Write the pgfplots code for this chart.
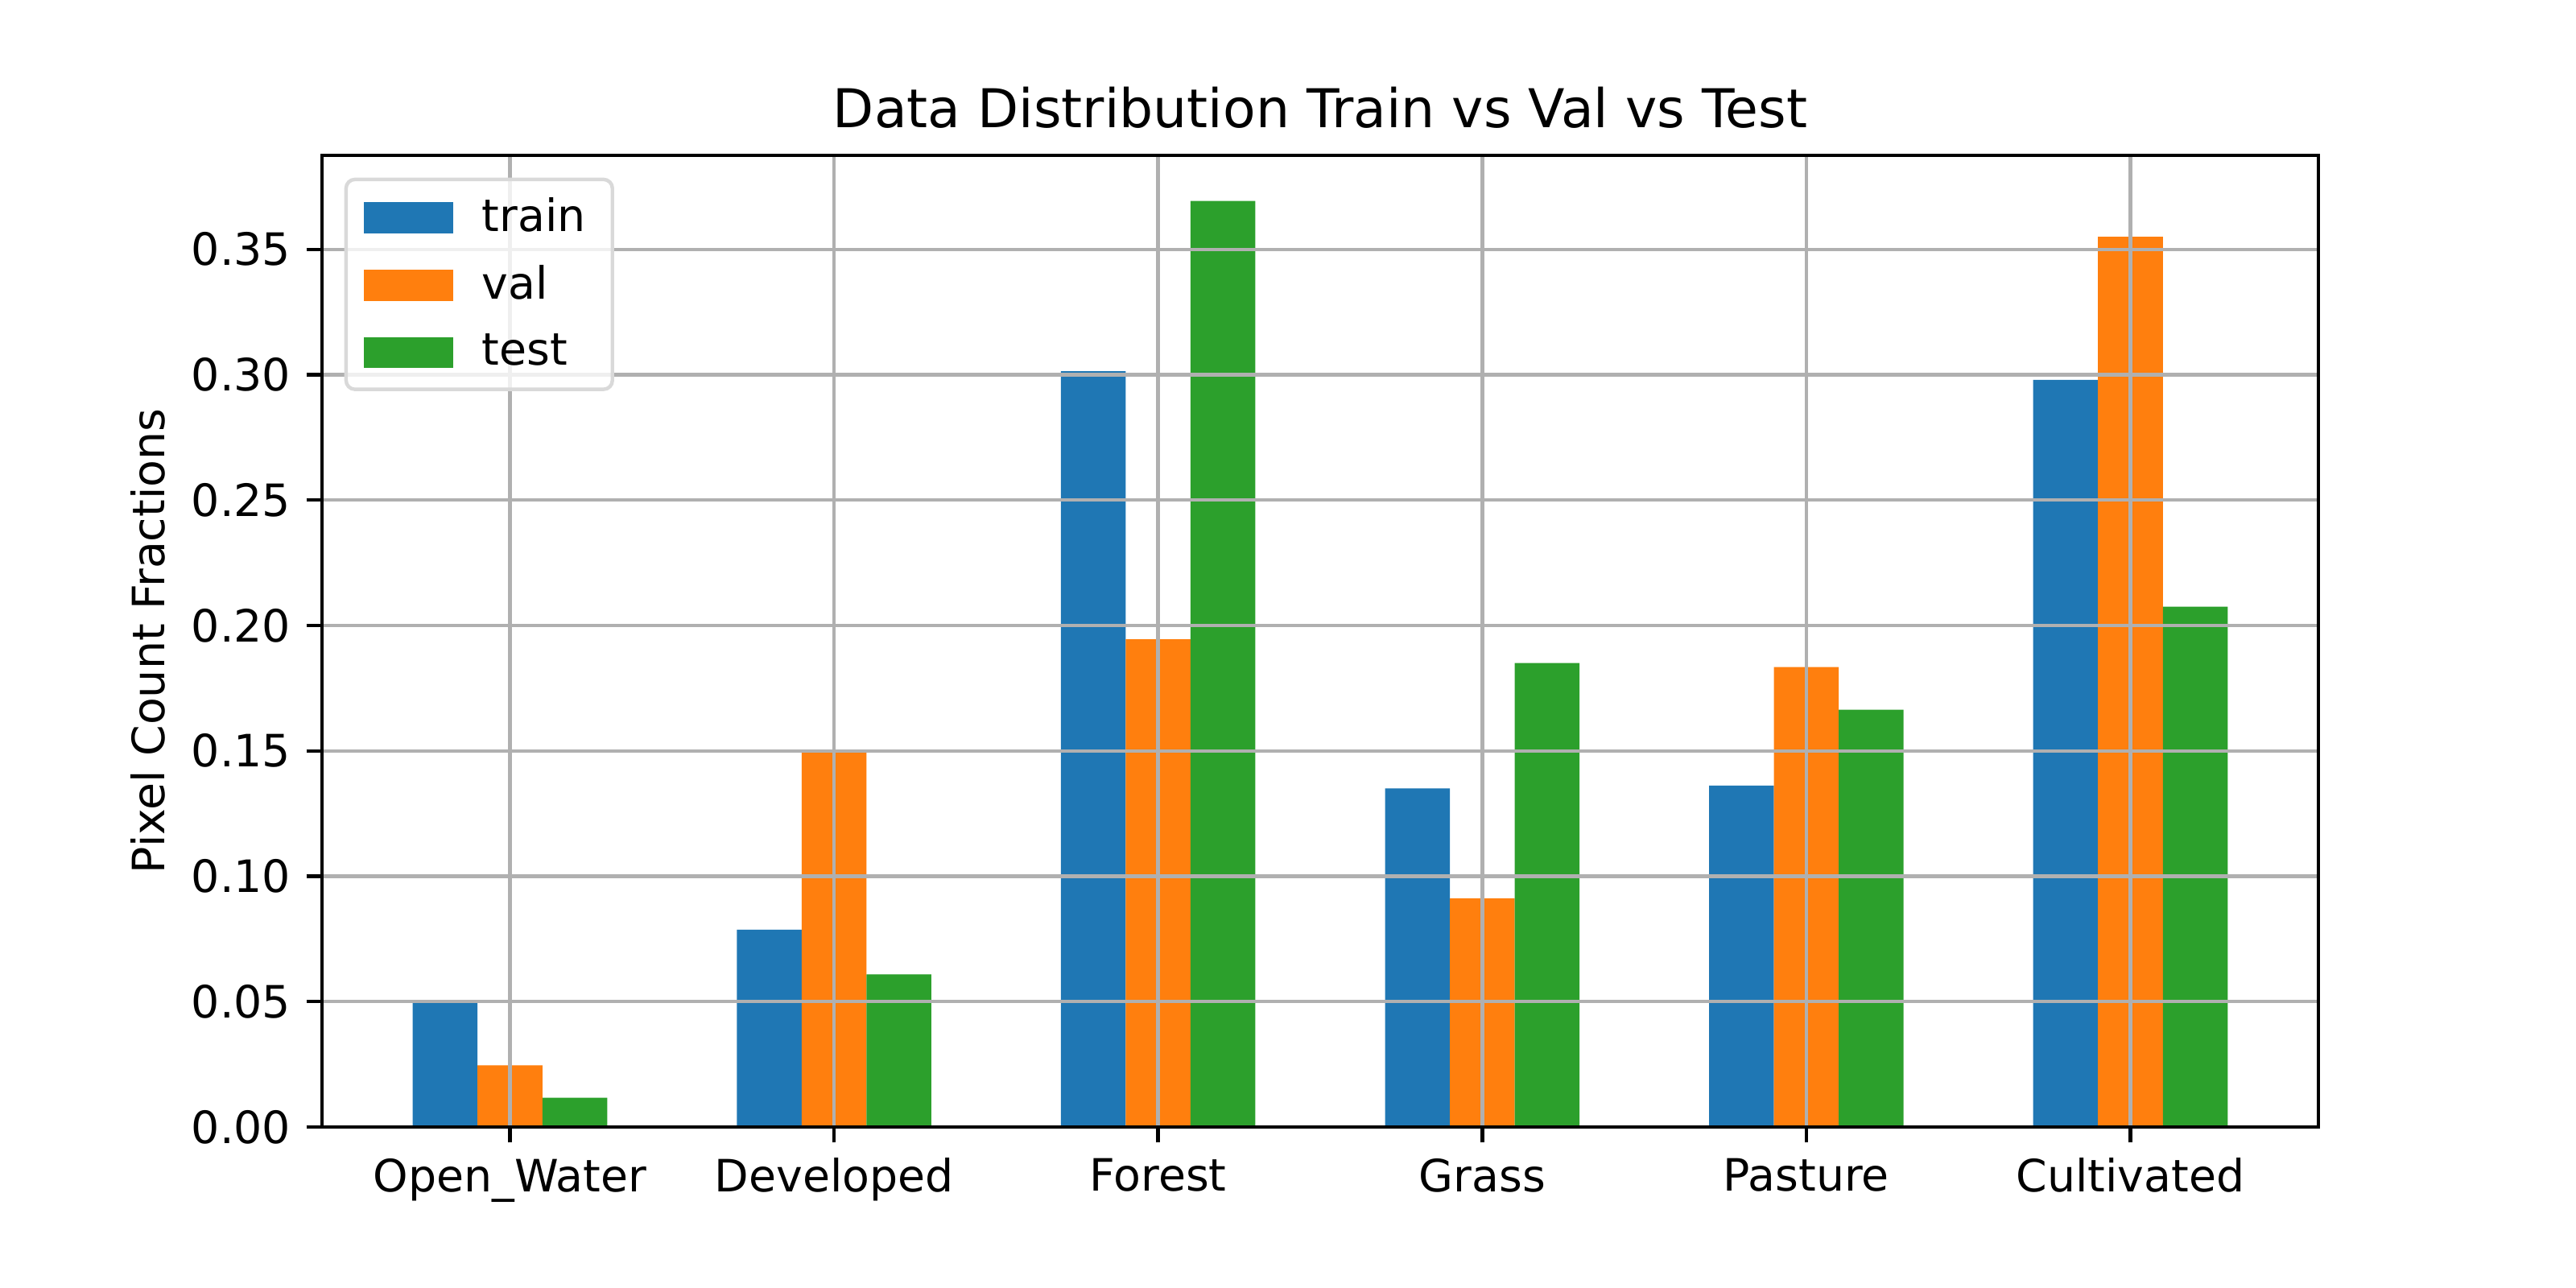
\documentclass[border=0pt]{standalone}
\usepackage{pgfplots}
\pgfplotsset{compat=1.18}
\usepackage{fontspec}
\setmainfont{DejaVu Sans}
\definecolor{c1}{HTML}{1F77B4}
\definecolor{c2}{HTML}{FF7F0E}
\definecolor{c3}{HTML}{2CA02C}
\definecolor{gridc}{HTML}{B0B0B0}
\begin{document}
\fontsize{10}{12}\selectfont
\begin{tikzpicture}
\path[use as bounding box] (0,0) rectangle (8in,4in);
\begin{axis}[
  at={(1in,0.5in)}, anchor=south west,
  scale only axis, width=6.2in, height=3.0175in,
  xmin=-0.58, xmax=5.58, ymin=0, ymax=0.3875,
  xtick={0,1,2,3,4,5},
  xticklabels={Open\_Water,Developed,Forest,Grass,Pasture,Cultivated},
  ytick={0,0.05,0.10,0.15,0.20,0.25,0.30,0.35},
  yticklabel style={/pgf/number format/fixed,/pgf/number format/fixed zerofill,/pgf/number format/precision=2},
  /pgf/number format/assume math mode=true,
  ticklabel style={font=\fontsize{10}{12}\selectfont},
  tick align=outside, major tick length=3.5pt,
  tick style={line width=0.8pt, black},
  xtick pos=bottom, ytick pos=left,
  axis line style={line width=0.8pt},
  grid=major, grid style={line width=0.8pt, gridc},
  axis on top,
  ybar, bar width=0.2,
  title={Data Distribution Train vs Val vs Test},
  title style={font=\fontsize{12}{14}\selectfont, yshift=-3.5pt},
  ylabel={Pixel Count Fractions},
  ylabel style={font=\fontsize{10}{12}\selectfont, yshift=-1pt},
  legend cell align=left,
  legend image code/.code={\fill[#1, sharp corners, fill opacity=1] (0pt,-3.5pt) rectangle (20pt,3.5pt);},
  legend style={at={(0,1)}, anchor=north west, xshift=5pt, yshift=-5pt,
    draw=black!15, line width=0.8pt, rounded corners=2pt,
    fill=white, fill opacity=0.8, text opacity=1, draw opacity=1,
    inner xsep=4pt, inner ysep=2pt, row sep=2.2pt,
    font=\fontsize{10}{12}\selectfont,
    /tikz/every odd column/.append style={column sep=4.5pt}},
]
\addplot[draw=none, fill=c1, bar shift=-0.2] coordinates {(0,0.0507) (1,0.0787) (2,0.3014) (3,0.1350) (4,0.1362) (5,0.2980)};
\addplot[draw=none, fill=c2, bar shift=0] coordinates {(0,0.0246) (1,0.1505) (2,0.1945) (3,0.0912) (4,0.1834) (5,0.3550)};
\addplot[draw=none, fill=c3, bar shift=0.2] coordinates {(0,0.0117) (1,0.0609) (2,0.3693) (3,0.1850) (4,0.1664) (5,0.2075)};
\legend{train,val,test}
\end{axis}
\end{tikzpicture}
\end{document}
